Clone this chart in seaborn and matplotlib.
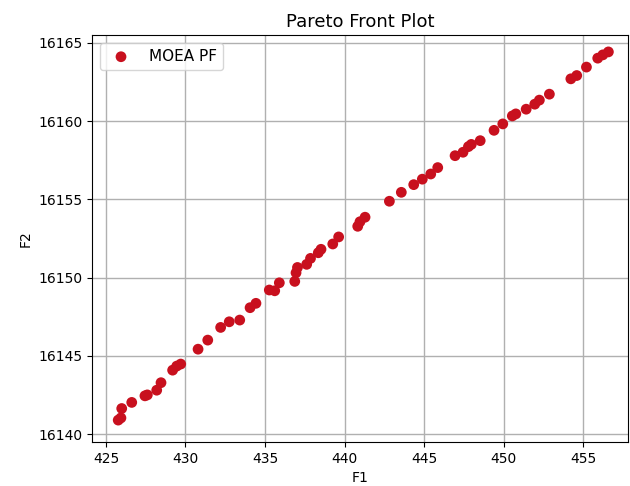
import matplotlib
matplotlib.use("Agg")
import matplotlib.pyplot as plt
import seaborn as sns
import pandas as pd

f1 = [425.77, 425.94, 425.99, 426.62, 427.45, 427.60, 428.19, 428.46, 429.19, 429.45,
      429.70, 430.79, 431.40, 432.21, 432.75, 433.41, 434.06, 434.43, 435.27, 435.61,
      435.90, 436.87, 436.95, 437.04, 437.62, 437.86, 438.35, 438.52, 439.26, 439.63,
      440.83, 440.97, 441.29, 442.82, 443.57, 444.35, 444.89, 445.42, 445.86, 446.95,
      447.45, 447.79, 447.97, 448.53, 449.40, 449.95, 450.55, 450.77, 451.42, 451.96,
      452.25, 452.88, 454.23, 454.60, 455.21, 455.92, 456.24, 456.59]
f2 = [16140.90, 16141.04, 16141.64, 16142.03, 16142.45, 16142.51, 16142.81, 16143.29, 16144.09, 16144.35,
      16144.48, 16145.43, 16146.01, 16146.82, 16147.18, 16147.29, 16148.08, 16148.36, 16149.21, 16149.16,
      16149.67, 16149.76, 16150.31, 16150.65, 16150.85, 16151.23, 16151.59, 16151.81, 16152.15, 16152.60,
      16153.28, 16153.57, 16153.86, 16154.88, 16155.45, 16155.94, 16156.29, 16156.62, 16157.03, 16157.79,
      16158.01, 16158.37, 16158.51, 16158.75, 16159.41, 16159.82, 16160.33, 16160.46, 16160.76, 16161.08,
      16161.34, 16161.72, 16162.70, 16162.91, 16163.45, 16164.02, 16164.23, 16164.42]

df = pd.DataFrame({"F1": f1, "F2": f2})

fig = plt.figure(figsize=(6.3, 4.86), dpi=100)
ax = fig.add_axes([0.146, 0.0905, 0.851, 0.8375])
sns.scatterplot(data=df, x="F1", y="F2", ax=ax, color="#c8101e", s=60,
                edgecolor="none", label="MOEA PF", zorder=3)
ax.set_xlim(424.12, 457.83)
ax.set_ylim(16139.5, 16165.5)
ax.set_xticks([425, 430, 435, 440, 445, 450, 455])
ax.set_yticks([16140, 16145, 16150, 16155, 16160, 16165])
ax.grid(True, color="#b0b0b0", linewidth=1.0)
ax.set_axisbelow(True)
ax.set_title("Pareto Front Plot", fontsize=13)
ax.set_xlabel("F1")
ax.set_ylabel("F2")
ax.legend(loc="upper left", fontsize=11)
fig.savefig("out.png", dpi=100)
